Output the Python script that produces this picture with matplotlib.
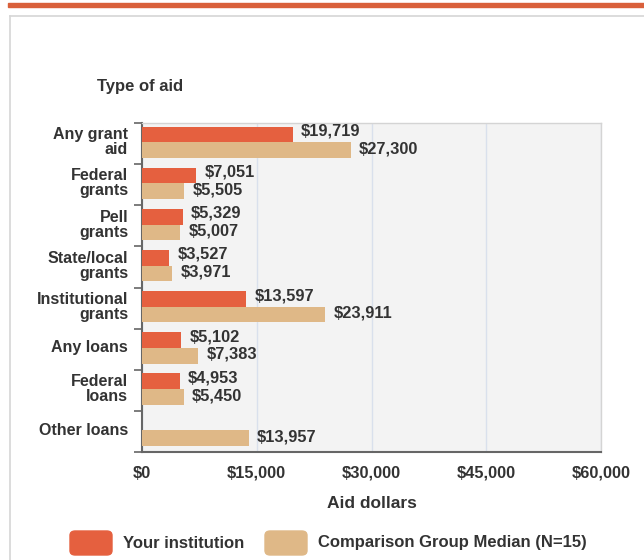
import matplotlib.pyplot as plt
from matplotlib.patches import FancyBboxPatch, Rectangle
import numpy as np

# Data
categories = ['Any grant\naid', 'Federal\ngrants', 'Pell\ngrants', 'State/local\ngrants',
              'Institutional\ngrants', 'Any loans', 'Federal\nloans', 'Other loans']
your_institution = [19719, 7051, 5329, 3527, 13597, 5102, 4953, 0]
comparison_median = [27300, 5505, 5007, 3971, 23911, 7383, 5450, 13957]
x_ticks = [0, 15000, 30000, 45000, 60000]

RED = '#e5603f'
TAN = '#dfb887'
TXT = '#333333'

plt.rcParams['font.family'] = ['Liberation Sans', 'DejaVu Sans']

W, H = 644, 560
fig = plt.figure(figsize=(W / 100, H / 100), dpi=100)

# Page decorations: top orange rule and light frame
fig.patches.append(Rectangle((8 / W, 1 - 7 / H), 1, 4.5 / H, transform=fig.transFigure,
                             color='#d9603b', zorder=0))
fig.add_artist(plt.Line2D([10 / W, 10 / W], [0, 1 - 16 / H], color='#d6d6d6', lw=1.2))
fig.add_artist(plt.Line2D([10 / W, 1], [1 - 16 / H, 1 - 16 / H], color='#d6d6d6', lw=1.2))

# Plot area
left, right, top, bottom = 142, 601, 123, 452
ax = fig.add_axes([left / W, 1 - bottom / H, (right - left) / W, (bottom - top) / H])
ax.set_facecolor('#f3f3f3')

n = len(categories)
y = np.arange(n)
bh = 0.38
bars1 = ax.barh(y - bh / 2 - 0.03, your_institution, height=bh, color=RED, edgecolor='none', zorder=3)
bars2 = ax.barh(y + bh / 2 - 0.03, comparison_median, height=bh, color=TAN, edgecolor='none', zorder=3)

ax.set_xlim(0, 60000)
ax.set_ylim(n - 0.5, -0.5)

# Value labels
for rects, vals, dy in ((bars1, your_institution, 2.5), (bars2, comparison_median, 1.0)):
    for rect, v in zip(rects, vals):
        if v <= 0:
            continue
        ax.annotate(f'${v:,}', (v, rect.get_y() + rect.get_height() / 2),
                    xytext=(6, dy), textcoords='offset points',
                    ha='left', va='center', fontsize=11.8, fontweight='bold', color=TXT, zorder=4)

# Grid
ax.set_xticks(x_ticks)
ax.set_xticklabels([f'${t:,}' for t in x_ticks], fontsize=11.8, fontweight='bold', color=TXT)
ax.xaxis.grid(True, color='#d9e0ec', lw=1, zorder=1)
ax.tick_params(axis='x', length=0, pad=10)

# Category labels between boundary ticks
ax.set_yticks(np.arange(n + 1) - 0.5, minor=False)
ax.set_yticklabels([])
ax.tick_params(axis='y', length=6, width=1.2, color='#666666', direction='out')
for i, c in enumerate(categories):
    ax.text(-0.03, i - 0.03, c, transform=ax.get_yaxis_transform(), ha='right', va='center',
            fontsize=11.5, fontweight='bold', color=TXT, linespacing=1.0)

for s in ('top', 'right'):
    ax.spines[s].set_color('#d4d4d4')
    ax.spines[s].set_linewidth(1)
ax.spines['left'].set_color('#666666')
ax.spines['left'].set_linewidth(1.5)
ax.spines['bottom'].set_color('#666666')
ax.spines['bottom'].set_linewidth(1.5)

ax.set_xlabel('Aid dollars', fontsize=12.5, fontweight='bold', color=TXT, labelpad=11)
fig.text(97 / W, 1 - 86 / H, 'Type of aid', fontsize=12, fontweight='bold', color=TXT,
         ha='left', va='center')

# Legend
for x0, col, label in ((70, RED, 'Your institution'),
                       (265, TAN, 'Comparison Group Median (N=15)')):
    fig.patches.append(FancyBboxPatch((x0 / W, 1 - 555 / H), 42 / W, 24 / H,
                                      boxstyle='round,pad=0,rounding_size=0.008',
                                      transform=fig.transFigure, color=col))
    fig.text((x0 + 53) / W, 1 - 543 / H, label, fontsize=12, fontweight='bold',
             color=TXT, ha='left', va='center')

fig.savefig('out.png', dpi=100)
